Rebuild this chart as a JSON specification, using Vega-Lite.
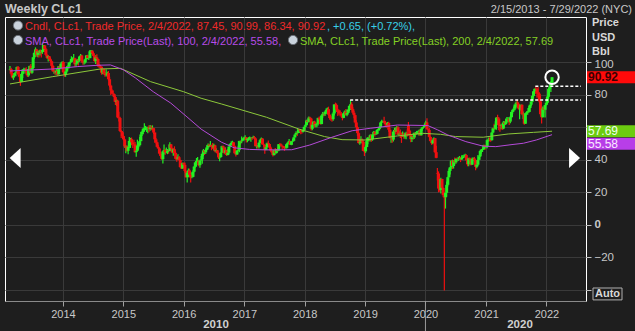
{
"$schema":"https://vega.github.io/schema/vega-lite/v6.json",
"width":581,"height":284,
"autosize":{"type":"none"},
"padding":{"left":5,"top":17,"right":49,"bottom":30},
"background":"#1e1e1e",
"config":{"view":{"fill":"#242424","stroke":"#ffffff","strokeWidth":1},"font":"Liberation Sans","text":{"font":"Liberation Sans"}},
"datasets":{
"ohlc":[
{"d":"2013-02-15","o":95.7,"h":97.8,"l":95.0,"c":95.9},
{"d":"2013-02-22","o":95.9,"h":96.7,"l":92.0,"c":93.1},
{"d":"2013-03-01","o":93.1,"h":93.8,"l":90.2,"c":90.7},
{"d":"2013-03-08","o":90.7,"h":92.4,"l":89.3,"c":92.0},
{"d":"2013-03-15","o":92.0,"h":93.9,"l":91.5,"c":93.5},
{"d":"2013-03-22","o":93.5,"h":94.4,"l":91.6,"c":93.7},
{"d":"2013-03-29","o":93.7,"h":97.6,"l":93.6,"c":97.2},
{"d":"2013-04-05","o":97.2,"h":97.8,"l":92.4,"c":92.7},
{"d":"2013-04-12","o":92.7,"h":95.2,"l":90.9,"c":91.3},
{"d":"2013-04-19","o":91.3,"h":91.5,"l":85.6,"c":88.0},
{"d":"2013-04-26","o":88.0,"h":93.8,"l":87.9,"c":93.0},
{"d":"2013-05-03","o":93.0,"h":95.9,"l":90.5,"c":95.6},
{"d":"2013-05-10","o":95.6,"h":96.8,"l":94.3,"c":96.0},
{"d":"2013-05-17","o":96.0,"h":96.4,"l":93.3,"c":96.0},
{"d":"2013-05-24","o":96.0,"h":97.1,"l":92.5,"c":94.2},
{"d":"2013-05-31","o":94.2,"h":95.0,"l":91.1,"c":92.0},
{"d":"2013-06-07","o":92.0,"h":96.2,"l":91.2,"c":96.0},
{"d":"2013-06-14","o":96.0,"h":98.0,"l":95.2,"c":97.9},
{"d":"2013-06-21","o":97.9,"h":99.0,"l":93.3,"c":93.7},
{"d":"2013-06-28","o":93.7,"h":97.3,"l":93.0,"c":96.6},
{"d":"2013-07-05","o":96.6,"h":103.4,"l":96.0,"c":103.2},
{"d":"2013-07-12","o":103.2,"h":106.6,"l":102.2,"c":105.9},
{"d":"2013-07-19","o":105.9,"h":109.3,"l":105.3,"c":108.1},
{"d":"2013-07-26","o":108.1,"h":108.4,"l":103.6,"c":104.7},
{"d":"2013-08-02","o":104.7,"h":107.5,"l":103.3,"c":106.9},
{"d":"2013-08-09","o":106.9,"h":107.1,"l":103.0,"c":106.0},
{"d":"2013-08-16","o":106.0,"h":108.0,"l":104.3,"c":107.5},
{"d":"2013-08-23","o":107.5,"h":107.8,"l":103.0,"c":106.4},
{"d":"2013-08-30","o":106.4,"h":112.2,"l":105.3,"c":107.7},
{"d":"2013-09-06","o":107.7,"h":110.7,"l":106.5,"c":110.5},
{"d":"2013-09-13","o":110.5,"h":110.8,"l":106.4,"c":108.2},
{"d":"2013-09-20","o":108.2,"h":108.9,"l":104.2,"c":104.7},
{"d":"2013-09-27","o":104.7,"h":105.0,"l":102.2,"c":102.9},
{"d":"2013-10-04","o":102.9,"h":104.5,"l":100.6,"c":103.8},
{"d":"2013-10-11","o":103.8,"h":104.0,"l":101.2,"c":102.0},
{"d":"2013-10-18","o":102.0,"h":102.9,"l":100.1,"c":100.8},
{"d":"2013-10-25","o":100.8,"h":101.0,"l":96.1,"c":97.9},
{"d":"2013-11-01","o":97.9,"h":98.5,"l":94.3,"c":94.6},
{"d":"2013-11-08","o":94.6,"h":95.5,"l":93.1,"c":94.6},
{"d":"2013-11-15","o":94.6,"h":95.2,"l":92.5,"c":93.8},
{"d":"2013-11-22","o":93.8,"h":96.0,"l":92.4,"c":94.8},
{"d":"2013-11-29","o":94.8,"h":95.3,"l":91.8,"c":92.7},
{"d":"2013-12-06","o":92.7,"h":97.9,"l":92.5,"c":97.7},
{"d":"2013-12-13","o":97.7,"h":98.9,"l":96.1,"c":96.6},
{"d":"2013-12-20","o":96.6,"h":99.5,"l":95.9,"c":99.3},
{"d":"2013-12-27","o":99.3,"h":100.8,"l":98.4,"c":100.3},
{"d":"2014-01-03","o":100.3,"h":100.8,"l":93.6,"c":94.0},
{"d":"2014-01-10","o":94.0,"h":94.4,"l":91.2,"c":92.7},
{"d":"2014-01-17","o":92.7,"h":94.6,"l":91.2,"c":94.4},
{"d":"2014-01-24","o":94.4,"h":97.8,"l":93.7,"c":96.6},
{"d":"2014-01-31","o":96.6,"h":98.3,"l":95.8,"c":97.5},
{"d":"2014-02-07","o":97.5,"h":100.2,"l":96.3,"c":99.9},
{"d":"2014-02-14","o":99.9,"h":101.0,"l":98.9,"c":100.3},
{"d":"2014-02-21","o":100.3,"h":103.8,"l":100.2,"c":102.2},
{"d":"2014-02-28","o":102.2,"h":103.2,"l":101.3,"c":102.6},
{"d":"2014-03-07","o":102.6,"h":105.2,"l":101.2,"c":102.6},
{"d":"2014-03-14","o":102.6,"h":102.9,"l":97.4,"c":98.9},
{"d":"2014-03-21","o":98.9,"h":101.2,"l":97.7,"c":99.5},
{"d":"2014-03-28","o":99.5,"h":102.2,"l":98.8,"c":101.7},
{"d":"2014-04-04","o":101.7,"h":102.4,"l":98.2,"c":101.1},
{"d":"2014-04-11","o":101.1,"h":104.0,"l":100.4,"c":103.7},
{"d":"2014-04-18","o":103.7,"h":105.2,"l":102.7,"c":104.3},
{"d":"2014-04-25","o":104.3,"h":104.7,"l":100.0,"c":100.6},
{"d":"2014-05-02","o":100.6,"h":101.2,"l":98.6,"c":99.8},
{"d":"2014-05-09","o":99.8,"h":101.3,"l":98.8,"c":100.0},
{"d":"2014-05-16","o":100.0,"h":102.4,"l":99.4,"c":102.0},
{"d":"2014-05-23","o":102.0,"h":104.6,"l":101.9,"c":104.4},
{"d":"2014-05-30","o":104.4,"h":104.7,"l":102.1,"c":102.7},
{"d":"2014-06-06","o":102.7,"h":103.7,"l":101.6,"c":102.7},
{"d":"2014-06-13","o":102.7,"h":107.7,"l":102.6,"c":106.9},
{"d":"2014-06-20","o":106.9,"h":107.7,"l":105.3,"c":107.3},
{"d":"2014-06-27","o":107.3,"h":107.5,"l":105.0,"c":105.7},
{"d":"2014-07-04","o":105.7,"h":106.5,"l":103.8,"c":104.1},
{"d":"2014-07-11","o":104.1,"h":104.2,"l":100.5,"c":100.8},
{"d":"2014-07-18","o":100.8,"h":104.4,"l":99.0,"c":103.1},
{"d":"2014-07-25","o":103.1,"h":105.0,"l":101.2,"c":102.1},
{"d":"2014-08-01","o":102.1,"h":102.3,"l":97.2,"c":97.9},
{"d":"2014-08-08","o":97.9,"h":99.2,"l":96.6,"c":97.7},
{"d":"2014-08-15","o":97.7,"h":98.6,"l":95.3,"c":97.4},
{"d":"2014-08-22","o":97.4,"h":97.6,"l":92.5,"c":93.7},
{"d":"2014-08-29","o":93.7,"h":96.2,"l":92.8,"c":96.0},
{"d":"2014-09-05","o":96.0,"h":96.3,"l":92.9,"c":93.3},
{"d":"2014-09-12","o":93.3,"h":94.1,"l":91.2,"c":92.3},
{"d":"2014-09-19","o":92.3,"h":95.9,"l":91.5,"c":92.4},
{"d":"2014-09-26","o":92.4,"h":94.3,"l":91.0,"c":93.5},
{"d":"2014-10-03","o":93.5,"h":94.8,"l":88.9,"c":89.7},
{"d":"2014-10-10","o":89.7,"h":91.2,"l":84.8,"c":85.8},
{"d":"2014-10-17","o":85.8,"h":86.3,"l":80.0,"c":82.8},
{"d":"2014-10-24","o":82.8,"h":83.6,"l":80.6,"c":81.0},
{"d":"2014-10-31","o":81.0,"h":82.8,"l":79.4,"c":80.5},
{"d":"2014-11-07","o":80.5,"h":80.8,"l":75.8,"c":78.7},
{"d":"2014-11-14","o":78.7,"h":79.2,"l":73.8,"c":75.8},
{"d":"2014-11-21","o":75.8,"h":77.3,"l":73.3,"c":76.5},
{"d":"2014-11-28","o":76.5,"h":77.0,"l":65.7,"c":66.2},
{"d":"2014-12-05","o":66.2,"h":69.7,"l":63.7,"c":65.8},
{"d":"2014-12-12","o":65.8,"h":66.6,"l":57.3,"c":57.8},
{"d":"2014-12-19","o":57.8,"h":58.5,"l":53.6,"c":57.1},
{"d":"2014-12-26","o":57.1,"h":57.9,"l":54.3,"c":54.7},
{"d":"2015-01-02","o":54.7,"h":55.1,"l":52.0,"c":52.7},
{"d":"2015-01-09","o":52.7,"h":53.1,"l":47.3,"c":48.4},
{"d":"2015-01-16","o":48.4,"h":49.0,"l":44.2,"c":48.7},
{"d":"2015-01-23","o":48.7,"h":48.8,"l":45.1,"c":45.6},
{"d":"2015-01-30","o":45.6,"h":48.7,"l":43.6,"c":48.2},
{"d":"2015-02-06","o":48.2,"h":54.2,"l":47.4,"c":51.7},
{"d":"2015-02-13","o":51.7,"h":53.6,"l":47.4,"c":52.8},
{"d":"2015-02-20","o":52.8,"h":53.9,"l":49.0,"c":50.8},
{"d":"2015-02-27","o":50.8,"h":51.3,"l":47.4,"c":49.8},
{"d":"2015-03-06","o":49.8,"h":52.5,"l":48.8,"c":49.6},
{"d":"2015-03-13","o":49.6,"h":51.1,"l":44.4,"c":44.8},
{"d":"2015-03-20","o":44.8,"h":46.3,"l":42.0,"c":45.7},
{"d":"2015-03-27","o":45.7,"h":52.5,"l":45.4,"c":48.9},
{"d":"2015-04-03","o":48.9,"h":50.8,"l":47.0,"c":49.1},
{"d":"2015-04-10","o":49.1,"h":54.2,"l":48.3,"c":51.6},
{"d":"2015-04-17","o":51.6,"h":57.4,"l":51.5,"c":55.7},
{"d":"2015-04-24","o":55.7,"h":58.0,"l":54.7,"c":57.2},
{"d":"2015-05-01","o":57.2,"h":59.9,"l":56.0,"c":59.2},
{"d":"2015-05-08","o":59.2,"h":62.6,"l":57.5,"c":59.4},
{"d":"2015-05-15","o":59.4,"h":61.0,"l":58.3,"c":59.7},
{"d":"2015-05-22","o":59.7,"h":60.5,"l":57.2,"c":59.7},
{"d":"2015-05-29","o":59.7,"h":60.5,"l":56.5,"c":60.3},
{"d":"2015-06-05","o":60.3,"h":61.4,"l":57.0,"c":59.1},
{"d":"2015-06-12","o":59.1,"h":61.5,"l":58.0,"c":60.0},
{"d":"2015-06-19","o":60.0,"h":61.2,"l":58.3,"c":59.6},
{"d":"2015-06-26","o":59.6,"h":61.3,"l":58.5,"c":59.6},
{"d":"2015-07-03","o":59.6,"h":59.9,"l":56.0,"c":56.9},
{"d":"2015-07-10","o":56.9,"h":57.0,"l":50.6,"c":52.7},
{"d":"2015-07-17","o":52.7,"h":53.6,"l":50.1,"c":50.9},
{"d":"2015-07-24","o":50.9,"h":51.2,"l":47.8,"c":48.1},
{"d":"2015-07-31","o":48.1,"h":49.4,"l":46.7,"c":47.1},
{"d":"2015-08-07","o":47.1,"h":47.3,"l":43.5,"c":43.9},
{"d":"2015-08-14","o":43.9,"h":45.2,"l":41.4,"c":42.5},
{"d":"2015-08-21","o":42.5,"h":43.3,"l":40.2,"c":40.5},
{"d":"2015-08-28","o":40.5,"h":45.5,"l":37.8,"c":45.2},
{"d":"2015-09-04","o":45.2,"h":49.6,"l":43.5,"c":46.1},
{"d":"2015-09-11","o":46.1,"h":46.9,"l":43.2,"c":44.6},
{"d":"2015-09-18","o":44.6,"h":47.7,"l":44.2,"c":44.7},
{"d":"2015-09-25","o":44.7,"h":46.7,"l":43.6,"c":45.7},
{"d":"2015-10-02","o":45.7,"h":46.3,"l":43.8,"c":45.5},
{"d":"2015-10-09","o":45.5,"h":50.9,"l":45.4,"c":49.6},
{"d":"2015-10-16","o":49.6,"h":49.9,"l":45.3,"c":47.3},
{"d":"2015-10-23","o":47.3,"h":47.6,"l":44.2,"c":44.6},
{"d":"2015-10-30","o":44.6,"h":47.0,"l":42.6,"c":46.6},
{"d":"2015-11-06","o":46.6,"h":48.4,"l":44.1,"c":44.3},
{"d":"2015-11-13","o":44.3,"h":45.0,"l":40.3,"c":40.7},
{"d":"2015-11-20","o":40.7,"h":42.7,"l":38.9,"c":40.4},
{"d":"2015-11-27","o":40.4,"h":43.5,"l":40.3,"c":41.7},
{"d":"2015-12-04","o":41.7,"h":42.5,"l":39.6,"c":40.0},
{"d":"2015-12-11","o":40.0,"h":40.2,"l":35.2,"c":35.6},
{"d":"2015-12-18","o":35.6,"h":37.4,"l":34.5,"c":34.7},
{"d":"2015-12-25","o":34.7,"h":38.4,"l":34.6,"c":38.1},
{"d":"2016-01-01","o":38.1,"h":38.4,"l":36.4,"c":37.0},
{"d":"2016-01-08","o":37.0,"h":38.4,"l":32.1,"c":33.2},
{"d":"2016-01-15","o":33.2,"h":33.4,"l":29.1,"c":29.4},
{"d":"2016-01-22","o":29.4,"h":32.4,"l":26.2,"c":32.2},
{"d":"2016-01-29","o":32.2,"h":34.8,"l":29.3,"c":33.6},
{"d":"2016-02-05","o":33.6,"h":34.7,"l":29.3,"c":30.9},
{"d":"2016-02-12","o":30.9,"h":31.0,"l":26.1,"c":29.4},
{"d":"2016-02-19","o":29.4,"h":32.3,"l":28.7,"c":29.6},
{"d":"2016-02-26","o":29.6,"h":33.6,"l":29.3,"c":32.8},
{"d":"2016-03-04","o":32.8,"h":36.3,"l":32.4,"c":35.9},
{"d":"2016-03-11","o":35.9,"h":38.9,"l":35.2,"c":38.5},
{"d":"2016-03-18","o":38.5,"h":41.2,"l":36.0,"c":39.4},
{"d":"2016-03-25","o":39.4,"h":41.9,"l":39.0,"c":39.5},
{"d":"2016-04-01","o":39.5,"h":39.8,"l":36.2,"c":36.8},
{"d":"2016-04-08","o":36.8,"h":39.8,"l":35.2,"c":39.7},
{"d":"2016-04-15","o":39.7,"h":42.4,"l":39.6,"c":40.4},
{"d":"2016-04-22","o":40.4,"h":44.5,"l":37.6,"c":43.7},
{"d":"2016-04-29","o":43.7,"h":46.8,"l":42.3,"c":45.9},
{"d":"2016-05-06","o":45.9,"h":46.2,"l":43.0,"c":44.7},
{"d":"2016-05-13","o":44.7,"h":47.0,"l":43.7,"c":46.2},
{"d":"2016-05-20","o":46.2,"h":49.0,"l":46.0,"c":47.8},
{"d":"2016-05-27","o":47.8,"h":50.2,"l":46.9,"c":49.3},
{"d":"2016-06-03","o":49.3,"h":50.0,"l":47.8,"c":48.6},
{"d":"2016-06-10","o":48.6,"h":51.7,"l":48.5,"c":49.1},
{"d":"2016-06-17","o":49.1,"h":49.4,"l":46.0,"c":48.0},
{"d":"2016-06-24","o":48.0,"h":50.5,"l":46.7,"c":47.6},
{"d":"2016-07-01","o":47.6,"h":50.0,"l":45.8,"c":49.0},
{"d":"2016-07-08","o":49.0,"h":49.4,"l":44.8,"c":45.4},
{"d":"2016-07-15","o":45.4,"h":47.2,"l":44.6,"c":46.0},
{"d":"2016-07-22","o":46.0,"h":46.1,"l":43.8,"c":44.2},
{"d":"2016-07-29","o":44.2,"h":44.4,"l":40.6,"c":41.6},
{"d":"2016-08-05","o":41.6,"h":42.0,"l":39.2,"c":41.8},
{"d":"2016-08-12","o":41.8,"h":44.8,"l":41.3,"c":44.5},
{"d":"2016-08-19","o":44.5,"h":48.8,"l":44.3,"c":48.5},
{"d":"2016-08-26","o":48.5,"h":48.9,"l":46.0,"c":47.6},
{"d":"2016-09-02","o":47.6,"h":47.7,"l":43.5,"c":44.4},
{"d":"2016-09-09","o":44.4,"h":47.7,"l":44.1,"c":45.9},
{"d":"2016-09-16","o":45.9,"h":46.3,"l":42.5,"c":43.0},
{"d":"2016-09-23","o":43.0,"h":46.6,"l":42.9,"c":44.5},
{"d":"2016-09-30","o":44.5,"h":48.3,"l":43.5,"c":48.2},
{"d":"2016-10-07","o":48.2,"h":50.0,"l":47.8,"c":49.8},
{"d":"2016-10-14","o":49.8,"h":51.6,"l":49.1,"c":50.4},
{"d":"2016-10-21","o":50.4,"h":51.9,"l":49.4,"c":50.9},
{"d":"2016-10-28","o":50.9,"h":51.2,"l":48.3,"c":48.7},
{"d":"2016-11-04","o":48.7,"h":48.8,"l":44.0,"c":44.1},
{"d":"2016-11-11","o":44.1,"h":45.9,"l":42.2,"c":43.4},
{"d":"2016-11-18","o":43.4,"h":46.2,"l":43.0,"c":45.7},
{"d":"2016-11-25","o":45.7,"h":48.7,"l":45.6,"c":46.1},
{"d":"2016-12-02","o":46.1,"h":51.8,"l":44.8,"c":51.7},
{"d":"2016-12-09","o":51.7,"h":51.9,"l":49.6,"c":51.5},
{"d":"2016-12-16","o":51.5,"h":54.5,"l":50.3,"c":51.9},
{"d":"2016-12-23","o":51.9,"h":53.4,"l":51.5,"c":53.0},
{"d":"2016-12-30","o":53.0,"h":54.3,"l":52.6,"c":53.7},
{"d":"2017-01-06","o":53.7,"h":55.2,"l":52.1,"c":54.0},
{"d":"2017-01-13","o":54.0,"h":54.1,"l":50.7,"c":52.4},
{"d":"2017-01-20","o":52.4,"h":53.6,"l":50.9,"c":53.2},
{"d":"2017-01-27","o":53.2,"h":54.0,"l":51.8,"c":53.2},
{"d":"2017-02-03","o":53.2,"h":54.5,"l":52.2,"c":53.8},
{"d":"2017-02-10","o":53.8,"h":54.0,"l":51.2,"c":53.9},
{"d":"2017-02-17","o":53.9,"h":54.0,"l":52.3,"c":53.4},
{"d":"2017-02-24","o":53.4,"h":54.9,"l":53.3,"c":54.0},
{"d":"2017-03-03","o":54.0,"h":54.7,"l":52.6,"c":53.3},
{"d":"2017-03-10","o":53.3,"h":53.8,"l":48.4,"c":48.5},
{"d":"2017-03-17","o":48.5,"h":49.2,"l":47.1,"c":48.8},
{"d":"2017-03-24","o":48.8,"h":49.0,"l":47.0,"c":48.0},
{"d":"2017-03-31","o":48.0,"h":50.9,"l":47.1,"c":50.6},
{"d":"2017-04-07","o":50.6,"h":52.9,"l":50.4,"c":52.2},
{"d":"2017-04-14","o":52.2,"h":53.8,"l":52.1,"c":53.2},
{"d":"2017-04-21","o":53.2,"h":53.3,"l":49.5,"c":49.6},
{"d":"2017-04-28","o":49.6,"h":50.2,"l":48.2,"c":49.3},
{"d":"2017-05-05","o":49.3,"h":49.5,"l":43.8,"c":46.2},
{"d":"2017-05-12","o":46.2,"h":48.0,"l":46.0,"c":47.8},
{"d":"2017-05-19","o":47.8,"h":50.7,"l":47.7,"c":50.3},
{"d":"2017-05-26","o":50.3,"h":52.0,"l":48.2,"c":49.8},
{"d":"2017-06-02","o":49.8,"h":50.2,"l":47.4,"c":47.7},
{"d":"2017-06-09","o":47.7,"h":48.5,"l":45.2,"c":45.8},
{"d":"2017-06-16","o":45.8,"h":46.5,"l":44.2,"c":44.7},
{"d":"2017-06-23","o":44.7,"h":44.9,"l":42.1,"c":43.0},
{"d":"2017-06-30","o":43.0,"h":46.2,"l":42.8,"c":46.0},
{"d":"2017-07-07","o":46.0,"h":47.3,"l":43.8,"c":44.2},
{"d":"2017-07-14","o":44.2,"h":46.6,"l":44.0,"c":46.5},
{"d":"2017-07-21","o":46.5,"h":47.7,"l":45.4,"c":45.8},
{"d":"2017-07-28","o":45.8,"h":49.8,"l":45.4,"c":49.7},
{"d":"2017-08-04","o":49.7,"h":50.4,"l":48.4,"c":49.6},
{"d":"2017-08-11","o":49.6,"h":50.2,"l":48.1,"c":48.8},
{"d":"2017-08-18","o":48.8,"h":48.9,"l":46.5,"c":48.5},
{"d":"2017-08-25","o":48.5,"h":48.6,"l":47.0,"c":47.9},
{"d":"2017-09-01","o":47.9,"h":48.3,"l":45.6,"c":47.3},
{"d":"2017-09-08","o":47.3,"h":49.4,"l":47.1,"c":47.5},
{"d":"2017-09-15","o":47.5,"h":50.3,"l":47.0,"c":49.9},
{"d":"2017-09-22","o":49.9,"h":51.0,"l":49.4,"c":50.7},
{"d":"2017-09-29","o":50.7,"h":52.9,"l":50.5,"c":51.7},
{"d":"2017-10-06","o":51.7,"h":51.8,"l":49.2,"c":49.3},
{"d":"2017-10-13","o":49.3,"h":51.6,"l":49.1,"c":51.5},
{"d":"2017-10-20","o":51.5,"h":52.9,"l":51.0,"c":51.8},
{"d":"2017-10-27","o":51.8,"h":54.0,"l":51.3,"c":53.9},
{"d":"2017-11-03","o":53.9,"h":55.8,"l":53.8,"c":55.6},
{"d":"2017-11-10","o":55.6,"h":57.7,"l":55.5,"c":56.7},
{"d":"2017-11-17","o":56.7,"h":57.1,"l":54.8,"c":56.6},
{"d":"2017-11-24","o":56.6,"h":59.1,"l":56.4,"c":59.0},
{"d":"2017-12-01","o":59.0,"h":59.1,"l":56.8,"c":58.4},
{"d":"2017-12-08","o":58.4,"h":58.6,"l":55.8,"c":57.4},
{"d":"2017-12-15","o":57.4,"h":58.0,"l":56.1,"c":57.3},
{"d":"2017-12-22","o":57.3,"h":58.6,"l":56.9,"c":58.5},
{"d":"2017-12-29","o":58.5,"h":60.5,"l":58.4,"c":60.4},
{"d":"2018-01-05","o":60.4,"h":62.2,"l":60.1,"c":61.4},
{"d":"2018-01-12","o":61.4,"h":64.8,"l":61.3,"c":64.3},
{"d":"2018-01-19","o":64.3,"h":64.9,"l":63.0,"c":63.4},
{"d":"2018-01-26","o":63.4,"h":66.7,"l":63.0,"c":66.1},
{"d":"2018-02-02","o":66.1,"h":66.6,"l":64.2,"c":65.5},
{"d":"2018-02-09","o":65.5,"h":65.8,"l":58.1,"c":59.2},
{"d":"2018-02-16","o":59.2,"h":61.9,"l":58.3,"c":61.7},
{"d":"2018-02-23","o":61.7,"h":63.7,"l":61.1,"c":63.6},
{"d":"2018-03-02","o":63.6,"h":64.2,"l":60.0,"c":61.3},
{"d":"2018-03-09","o":61.3,"h":63.0,"l":60.2,"c":62.0},
{"d":"2018-03-16","o":62.0,"h":62.8,"l":60.1,"c":62.3},
{"d":"2018-03-23","o":62.3,"h":66.0,"l":61.2,"c":65.9},
{"d":"2018-03-30","o":65.9,"h":66.7,"l":64.1,"c":64.9},
{"d":"2018-04-06","o":64.9,"h":65.0,"l":61.8,"c":62.1},
{"d":"2018-04-13","o":62.1,"h":67.5,"l":62.0,"c":67.4},
{"d":"2018-04-20","o":67.4,"h":69.6,"l":66.0,"c":68.4},
{"d":"2018-04-27","o":68.4,"h":69.1,"l":66.9,"c":68.1},
{"d":"2018-05-04","o":68.1,"h":70.0,"l":67.1,"c":69.7},
{"d":"2018-05-11","o":69.7,"h":71.9,"l":68.4,"c":70.7},
{"d":"2018-05-18","o":70.7,"h":72.3,"l":70.3,"c":71.3},
{"d":"2018-05-25","o":71.3,"h":72.8,"l":67.3,"c":67.9},
{"d":"2018-06-01","o":67.9,"h":68.1,"l":64.8,"c":65.8},
{"d":"2018-06-08","o":65.8,"h":66.5,"l":64.2,"c":65.7},
{"d":"2018-06-15","o":65.7,"h":67.1,"l":63.6,"c":65.1},
{"d":"2018-06-22","o":65.1,"h":69.3,"l":64.1,"c":68.6},
{"d":"2018-06-29","o":68.6,"h":74.5,"l":67.3,"c":74.2},
{"d":"2018-07-06","o":74.2,"h":75.3,"l":72.4,"c":73.8},
{"d":"2018-07-13","o":73.8,"h":74.7,"l":69.6,"c":71.0},
{"d":"2018-07-20","o":71.0,"h":71.5,"l":67.0,"c":70.5},
{"d":"2018-07-27","o":70.5,"h":70.9,"l":67.8,"c":68.7},
{"d":"2018-08-03","o":68.7,"h":70.5,"l":66.9,"c":68.5},
{"d":"2018-08-10","o":68.5,"h":69.6,"l":66.3,"c":67.6},
{"d":"2018-08-17","o":67.6,"h":68.0,"l":64.4,"c":65.9},
{"d":"2018-08-24","o":65.9,"h":69.0,"l":65.7,"c":68.7},
{"d":"2018-08-31","o":68.7,"h":70.5,"l":68.4,"c":69.8},
{"d":"2018-09-07","o":69.8,"h":71.4,"l":67.2,"c":67.8},
{"d":"2018-09-14","o":67.8,"h":71.0,"l":66.9,"c":69.0},
{"d":"2018-09-21","o":69.0,"h":71.4,"l":68.6,"c":70.8},
{"d":"2018-09-28","o":70.8,"h":73.6,"l":70.0,"c":73.3},
{"d":"2018-10-05","o":73.3,"h":76.9,"l":73.1,"c":74.3},
{"d":"2018-10-12","o":74.3,"h":75.6,"l":70.6,"c":71.3},
{"d":"2018-10-19","o":71.3,"h":72.4,"l":68.5,"c":69.1},
{"d":"2018-10-26","o":69.1,"h":70.3,"l":65.7,"c":67.6},
{"d":"2018-11-02","o":67.6,"h":67.9,"l":62.6,"c":63.1},
{"d":"2018-11-09","o":63.1,"h":64.4,"l":59.3,"c":60.2},
{"d":"2018-11-16","o":60.2,"h":60.8,"l":54.8,"c":56.5},
{"d":"2018-11-23","o":56.5,"h":57.3,"l":50.1,"c":50.4},
{"d":"2018-11-30","o":50.4,"h":52.2,"l":49.4,"c":50.9},
{"d":"2018-12-07","o":50.9,"h":54.6,"l":50.1,"c":52.6},
{"d":"2018-12-14","o":52.6,"h":53.2,"l":50.3,"c":51.2},
{"d":"2018-12-21","o":51.2,"h":51.9,"l":45.4,"c":45.6},
{"d":"2018-12-28","o":45.6,"h":47.2,"l":42.4,"c":45.3},
{"d":"2019-01-04","o":45.3,"h":49.0,"l":44.4,"c":48.0},
{"d":"2019-01-11","o":48.0,"h":53.3,"l":47.8,"c":51.6},
{"d":"2019-01-18","o":51.6,"h":54.1,"l":49.7,"c":53.8},
{"d":"2019-01-25","o":53.8,"h":54.5,"l":51.3,"c":53.7},
{"d":"2019-02-01","o":53.7,"h":55.8,"l":51.3,"c":55.3},
{"d":"2019-02-08","o":55.3,"h":55.8,"l":51.2,"c":52.7},
{"d":"2019-02-15","o":52.7,"h":55.8,"l":51.8,"c":55.6},
{"d":"2019-02-22","o":55.6,"h":57.8,"l":55.3,"c":57.3},
{"d":"2019-03-01","o":57.3,"h":57.8,"l":54.5,"c":55.8},
{"d":"2019-03-08","o":55.8,"h":57.4,"l":55.3,"c":56.1},
{"d":"2019-03-15","o":56.1,"h":58.9,"l":55.8,"c":58.5},
{"d":"2019-03-22","o":58.5,"h":60.4,"l":58.1,"c":59.0},
{"d":"2019-03-29","o":59.0,"h":60.7,"l":58.1,"c":60.1},
{"d":"2019-04-05","o":60.1,"h":63.2,"l":60.0,"c":63.1},
{"d":"2019-04-12","o":63.1,"h":64.8,"l":62.7,"c":63.9},
{"d":"2019-04-19","o":63.9,"h":64.2,"l":63.0,"c":64.0},
{"d":"2019-04-26","o":64.0,"h":66.6,"l":62.6,"c":63.3},
{"d":"2019-05-03","o":63.3,"h":64.2,"l":60.4,"c":61.9},
{"d":"2019-05-10","o":61.9,"h":62.6,"l":60.0,"c":61.7},
{"d":"2019-05-17","o":61.7,"h":63.4,"l":60.8,"c":62.8},
{"d":"2019-05-24","o":62.8,"h":63.5,"l":57.3,"c":58.6},
{"d":"2019-05-31","o":58.6,"h":59.9,"l":53.4,"c":53.5},
{"d":"2019-06-07","o":53.5,"h":55.0,"l":50.6,"c":54.0},
{"d":"2019-06-14","o":54.0,"h":54.5,"l":50.6,"c":52.5},
{"d":"2019-06-21","o":52.5,"h":57.9,"l":51.3,"c":57.4},
{"d":"2019-06-28","o":57.4,"h":59.9,"l":57.2,"c":58.5},
{"d":"2019-07-05","o":58.5,"h":60.0,"l":55.7,"c":57.5},
{"d":"2019-07-12","o":57.5,"h":60.9,"l":57.3,"c":60.2},
{"d":"2019-07-19","o":60.2,"h":60.8,"l":55.3,"c":55.6},
{"d":"2019-07-26","o":55.6,"h":57.7,"l":55.2,"c":56.2},
{"d":"2019-08-02","o":56.2,"h":58.8,"l":53.6,"c":55.7},
{"d":"2019-08-09","o":55.7,"h":56.9,"l":50.5,"c":54.5},
{"d":"2019-08-16","o":54.5,"h":57.5,"l":54.1,"c":54.9},
{"d":"2019-08-23","o":54.9,"h":56.9,"l":53.0,"c":54.2},
{"d":"2019-08-30","o":54.2,"h":56.8,"l":53.0,"c":55.1},
{"d":"2019-09-06","o":55.1,"h":57.4,"l":52.8,"c":56.5},
{"d":"2019-09-13","o":56.5,"h":58.8,"l":54.5,"c":54.9},
{"d":"2019-09-20","o":61.0,"h":63.4,"l":57.5,"c":58.1},
{"d":"2019-09-27","o":58.1,"h":58.6,"l":55.2,"c":55.9},
{"d":"2019-10-04","o":55.9,"h":56.0,"l":50.9,"c":52.8},
{"d":"2019-10-11","o":52.8,"h":54.9,"l":51.0,"c":54.7},
{"d":"2019-10-18","o":54.7,"h":54.9,"l":52.4,"c":53.8},
{"d":"2019-10-25","o":53.8,"h":56.9,"l":52.9,"c":56.7},
{"d":"2019-11-01","o":56.7,"h":56.9,"l":54.0,"c":56.2},
{"d":"2019-11-08","o":56.2,"h":57.9,"l":55.6,"c":57.2},
{"d":"2019-11-15","o":57.2,"h":58.0,"l":55.9,"c":57.7},
{"d":"2019-11-22","o":57.7,"h":58.6,"l":55.1,"c":57.8},
{"d":"2019-11-29","o":57.8,"h":58.8,"l":55.0,"c":55.2},
{"d":"2019-12-06","o":55.2,"h":59.3,"l":55.0,"c":59.2},
{"d":"2019-12-13","o":59.2,"h":60.2,"l":58.0,"c":60.1},
{"d":"2019-12-20","o":60.1,"h":61.4,"l":59.6,"c":60.4},
{"d":"2019-12-27","o":60.4,"h":62.3,"l":60.1,"c":61.7},
{"d":"2020-01-03","o":61.7,"h":64.1,"l":60.6,"c":63.1},
{"d":"2020-01-10","o":63.1,"h":65.7,"l":58.7,"c":59.0},
{"d":"2020-01-17","o":59.0,"h":59.2,"l":57.4,"c":58.5},
{"d":"2020-01-24","o":58.5,"h":59.7,"l":53.9,"c":54.2},
{"d":"2020-01-31","o":54.2,"h":54.6,"l":51.3,"c":51.6},
{"d":"2020-02-07","o":51.6,"h":52.1,"l":49.3,"c":50.3},
{"d":"2020-02-14","o":50.3,"h":52.4,"l":49.7,"c":52.1},
{"d":"2020-02-21","o":52.1,"h":54.0,"l":51.6,"c":53.4},
{"d":"2020-02-28","o":53.4,"h":53.5,"l":44.3,"c":44.8},
{"d":"2020-03-06","o":44.8,"h":48.7,"l":41.0,"c":41.3},
{"d":"2020-03-13","o":32.0,"h":35.0,"l":27.3,"c":31.7},
{"d":"2020-03-20","o":31.7,"h":33.0,"l":20.1,"c":22.4},
{"d":"2020-03-27","o":22.4,"h":25.2,"l":20.5,"c":21.5},
{"d":"2020-04-03","o":21.5,"h":29.1,"l":19.3,"c":28.3},
{"d":"2020-04-10","o":28.3,"h":28.4,"l":22.6,"c":22.8},
{"d":"2020-04-17","o":22.8,"h":23.0,"l":17.3,"c":18.3},
{"d":"2020-04-24","o":17.7,"h":18.3,"l":-40.3,"c":16.9},
{"d":"2020-05-01","o":17.0,"h":19.9,"l":10.1,"c":19.8},
{"d":"2020-05-08","o":19.8,"h":26.7,"l":17.3,"c":24.7},
{"d":"2020-05-15","o":24.7,"h":29.6,"l":23.6,"c":29.4},
{"d":"2020-05-22","o":29.4,"h":34.7,"l":29.2,"c":33.3},
{"d":"2020-05-29","o":33.3,"h":35.7,"l":31.1,"c":35.5},
{"d":"2020-06-05","o":35.5,"h":39.7,"l":34.6,"c":39.6},
{"d":"2020-06-12","o":39.6,"h":40.4,"l":34.4,"c":36.3},
{"d":"2020-06-19","o":36.3,"h":40.0,"l":34.7,"c":39.8},
{"d":"2020-06-26","o":39.8,"h":41.6,"l":37.1,"c":38.5},
{"d":"2020-07-03","o":38.5,"h":41.0,"l":37.6,"c":40.7},
{"d":"2020-07-10","o":40.7,"h":41.6,"l":39.0,"c":40.6},
{"d":"2020-07-17","o":40.6,"h":41.9,"l":39.4,"c":40.6},
{"d":"2020-07-24","o":40.6,"h":42.5,"l":40.1,"c":41.3},
{"d":"2020-07-31","o":41.3,"h":42.0,"l":38.7,"c":40.3},
{"d":"2020-08-07","o":40.3,"h":42.9,"l":40.0,"c":41.2},
{"d":"2020-08-14","o":41.2,"h":43.0,"l":41.0,"c":42.0},
{"d":"2020-08-21","o":42.0,"h":43.4,"l":41.5,"c":42.3},
{"d":"2020-08-28","o":42.3,"h":43.8,"l":42.0,"c":43.0},
{"d":"2020-09-04","o":43.0,"h":43.5,"l":39.3,"c":39.8},
{"d":"2020-09-11","o":39.8,"h":40.0,"l":36.1,"c":37.3},
{"d":"2020-09-18","o":37.3,"h":41.4,"l":36.1,"c":41.1},
{"d":"2020-09-25","o":41.1,"h":41.5,"l":38.9,"c":40.3},
{"d":"2020-10-02","o":40.3,"h":40.9,"l":36.6,"c":37.1},
{"d":"2020-10-09","o":37.1,"h":41.6,"l":36.9,"c":40.6},
{"d":"2020-10-16","o":40.6,"h":41.5,"l":39.6,"c":40.9},
{"d":"2020-10-23","o":40.9,"h":41.9,"l":38.6,"c":39.9},
{"d":"2020-10-30","o":39.9,"h":40.0,"l":33.6,"c":35.8},
{"d":"2020-11-06","o":35.8,"h":39.2,"l":34.9,"c":37.1},
{"d":"2020-11-13","o":37.1,"h":43.1,"l":36.5,"c":40.1},
{"d":"2020-11-20","o":40.1,"h":42.7,"l":40.0,"c":42.2},
{"d":"2020-11-27","o":42.2,"h":46.3,"l":41.9,"c":45.5},
{"d":"2020-12-04","o":45.5,"h":46.7,"l":43.9,"c":46.3},
{"d":"2020-12-11","o":46.3,"h":47.7,"l":44.9,"c":46.6},
{"d":"2020-12-18","o":46.6,"h":49.3,"l":46.1,"c":49.1},
{"d":"2020-12-25","o":49.1,"h":49.3,"l":46.2,"c":48.2},
{"d":"2021-01-01","o":48.2,"h":49.0,"l":47.2,"c":48.5},
{"d":"2021-01-08","o":48.5,"h":52.8,"l":47.2,"c":52.2},
{"d":"2021-01-15","o":52.2,"h":53.9,"l":51.3,"c":52.4},
{"d":"2021-01-22","o":52.4,"h":53.9,"l":51.4,"c":52.3},
{"d":"2021-01-29","o":52.3,"h":53.7,"l":51.2,"c":52.2},
{"d":"2021-02-05","o":52.2,"h":57.0,"l":51.9,"c":56.9},
{"d":"2021-02-12","o":56.9,"h":59.8,"l":56.6,"c":59.5},
{"d":"2021-02-19","o":59.5,"h":62.3,"l":58.6,"c":59.2},
{"d":"2021-02-26","o":59.2,"h":63.8,"l":58.8,"c":61.5},
{"d":"2021-03-05","o":61.5,"h":66.4,"l":58.6,"c":66.1},
{"d":"2021-03-12","o":66.1,"h":67.9,"l":63.1,"c":65.6},
{"d":"2021-03-19","o":65.6,"h":66.4,"l":58.3,"c":61.4},
{"d":"2021-03-26","o":61.4,"h":61.8,"l":57.3,"c":61.0},
{"d":"2021-04-02","o":61.0,"h":62.3,"l":58.9,"c":61.5},
{"d":"2021-04-09","o":61.5,"h":61.9,"l":58.4,"c":59.3},
{"d":"2021-04-16","o":59.3,"h":64.0,"l":58.9,"c":63.1},
{"d":"2021-04-23","o":63.1,"h":63.9,"l":60.6,"c":62.1},
{"d":"2021-04-30","o":62.1,"h":65.5,"l":61.6,"c":63.6},
{"d":"2021-05-07","o":63.6,"h":66.5,"l":63.0,"c":64.9},
{"d":"2021-05-14","o":64.9,"h":66.4,"l":63.1,"c":65.4},
{"d":"2021-05-21","o":65.4,"h":66.0,"l":61.6,"c":63.6},
{"d":"2021-05-28","o":63.6,"h":67.0,"l":62.6,"c":66.3},
{"d":"2021-06-04","o":66.3,"h":69.8,"l":66.0,"c":69.6},
{"d":"2021-06-11","o":69.6,"h":71.0,"l":68.4,"c":70.9},
{"d":"2021-06-18","o":70.9,"h":72.9,"l":69.9,"c":71.6},
{"d":"2021-06-25","o":71.6,"h":74.2,"l":70.6,"c":74.1},
{"d":"2021-07-02","o":74.1,"h":76.0,"l":72.6,"c":75.2},
{"d":"2021-07-09","o":75.2,"h":76.9,"l":71.9,"c":74.6},
{"d":"2021-07-16","o":74.6,"h":75.5,"l":71.0,"c":71.8},
{"d":"2021-07-23","o":71.8,"h":72.3,"l":65.0,"c":72.1},
{"d":"2021-07-30","o":72.1,"h":74.0,"l":70.5,"c":74.0},
{"d":"2021-08-06","o":74.0,"h":74.1,"l":67.6,"c":68.3},
{"d":"2021-08-13","o":68.3,"h":69.8,"l":65.2,"c":68.4},
{"d":"2021-08-20","o":68.4,"h":68.5,"l":61.7,"c":62.3},
{"d":"2021-08-27","o":62.3,"h":69.0,"l":62.2,"c":68.7},
{"d":"2021-09-03","o":68.7,"h":70.0,"l":67.6,"c":69.3},
{"d":"2021-09-10","o":69.3,"h":70.2,"l":67.8,"c":69.7},
{"d":"2021-09-17","o":69.7,"h":73.2,"l":69.1,"c":72.0},
{"d":"2021-09-24","o":72.0,"h":74.0,"l":69.6,"c":74.0},
{"d":"2021-10-01","o":74.0,"h":76.7,"l":73.1,"c":75.9},
{"d":"2021-10-08","o":75.9,"h":79.8,"l":75.8,"c":79.4},
{"d":"2021-10-15","o":79.4,"h":82.4,"l":78.3,"c":82.3},
{"d":"2021-10-22","o":82.3,"h":84.0,"l":81.2,"c":83.8},
{"d":"2021-10-29","o":83.8,"h":85.4,"l":80.6,"c":83.6},
{"d":"2021-11-05","o":83.6,"h":84.3,"l":78.3,"c":81.3},
{"d":"2021-11-12","o":81.3,"h":84.9,"l":78.6,"c":80.8},
{"d":"2021-11-19","o":80.8,"h":81.7,"l":75.3,"c":76.1},
{"d":"2021-11-26","o":76.1,"h":79.2,"l":67.4,"c":68.2},
{"d":"2021-12-03","o":68.2,"h":72.6,"l":62.4,"c":66.3},
{"d":"2021-12-10","o":66.3,"h":72.9,"l":66.2,"c":71.7},
{"d":"2021-12-17","o":71.7,"h":72.9,"l":69.1,"c":70.9},
{"d":"2021-12-24","o":70.9,"h":73.9,"l":66.1,"c":73.8},
{"d":"2021-12-31","o":73.8,"h":77.1,"l":73.6,"c":75.2},
{"d":"2022-01-07","o":75.2,"h":80.2,"l":74.3,"c":78.9},
{"d":"2022-01-14","o":78.9,"h":84.3,"l":77.8,"c":83.8},
{"d":"2022-01-21","o":83.8,"h":87.0,"l":82.8,"c":85.1},
{"d":"2022-01-28","o":85.1,"h":88.5,"l":81.9,"c":86.8},
{"d":"2022-02-04","o":87.45,"h":90.99,"l":86.34,"c":90.92}
],
"sma100":[
{"d":"2013-02-15","v":94.8},{"d":"2013-06-01","v":95.3},{"d":"2013-11-01","v":96.0},{"d":"2014-04-01","v":97.5},{"d":"2014-08-01","v":98.3},{"d":"2014-10-15","v":98.5},{"d":"2015-01-01","v":95.5},{"d":"2015-03-15","v":90.5},{"d":"2015-07-01","v":82.0},{"d":"2015-10-15","v":75.0},{"d":"2016-01-15","v":67.0},{"d":"2016-04-15","v":59.0},{"d":"2016-08-15","v":51.0},{"d":"2016-11-01","v":47.5},{"d":"2017-02-01","v":46.5},{"d":"2017-05-15","v":46.2},{"d":"2017-10-15","v":46.3},{"d":"2018-02-01","v":49.2},{"d":"2018-06-15","v":54.0},{"d":"2018-10-15","v":58.0},{"d":"2019-02-01","v":59.5},{"d":"2019-07-15","v":61.5},{"d":"2020-01-15","v":61.2},{"d":"2020-03-15","v":58.5},{"d":"2020-05-15","v":55.4},{"d":"2020-09-01","v":51.3},{"d":"2020-12-15","v":48.5},{"d":"2021-03-01","v":48.2},{"d":"2021-06-01","v":49.4},{"d":"2021-08-15","v":50.3},{"d":"2021-11-01","v":52.3},{"d":"2022-02-04","v":55.58}
],
"sma200":[
{"d":"2013-02-15","v":86.8},{"d":"2013-11-01","v":91.3},{"d":"2014-08-15","v":96.0},{"d":"2014-12-15","v":96.4},{"d":"2015-06-15","v":88.2},{"d":"2016-01-01","v":82.0},{"d":"2016-04-15","v":78.0},{"d":"2016-08-15","v":74.5},{"d":"2017-05-15","v":66.3},{"d":"2017-12-01","v":58.9},{"d":"2018-05-01","v":54.4},{"d":"2018-08-15","v":52.5},{"d":"2019-01-01","v":52.3},{"d":"2019-07-15","v":54.8},{"d":"2019-12-15","v":56.4},{"d":"2020-04-01","v":55.8},{"d":"2020-07-01","v":54.4},{"d":"2020-12-15","v":54.0},{"d":"2021-05-15","v":56.0},{"d":"2021-10-15","v":57.0},{"d":"2022-02-04","v":57.69}
],
"levels":[{"d":"2018-10-03","v":76.9},{"d":"2021-10-26","v":85.4}]
},
"layer":[
{"data":{"name":"ohlc"},
 "mark":{"type":"rule","strokeWidth":1.2},
 "encoding":{
  "x":{"field":"d","type":"temporal","scale":{"type":"utc","domain":[{"year":2013,"month":2,"date":15,"utc":true},{"year":2022,"month":7,"date":29,"utc":true}]},
   "axis":{"title":null,"values":[{"year":2014,"utc":true},{"year":2015,"utc":true},{"year":2016,"utc":true},{"year":2017,"utc":true},{"year":2018,"utc":true},{"year":2019,"utc":true},{"year":2020,"utc":true},{"year":2021,"utc":true},{"year":2022,"utc":true}],"format":"%Y","formatType":"utc","grid":true,"gridColor":"#3a3a3a","tickSize":5,"tickColor":"#a0a0a0","labelColor":"#c8c8c8","labelFontSize":11,"labelFont":"Liberation Sans","labelPadding":2,"domainColor":"#8a8a8a","labelFlush":false}},
  "y":{"field":"l","type":"quantitative","scale":{"domain":[-46.8,128],"nice":false,"zero":false},
   "axis":{"title":null,"orient":"right","values":[-40,-20,0,20,40,60,80,100],"grid":true,"gridColor":"#3a3a3a","domain":false,"tickSize":5,"tickColor":"#c0c0c0","labelColor":"#c8c8c8","labelFontSize":11.5,"labelFont":"Liberation Sans","labelPadding":3,"labelExpr":"datum.value === -40 || datum.value === 60 ? '' : datum.label","labelOffset":{"condition":{"test":"datum.value === 100","value":2},"value":0},"labelFontWeight":{"condition":{"test":"datum.value === 0","value":"bold"},"value":"normal"}}},
  "y2":{"field":"h"},
  "color":{"condition":{"test":"datum.c >= datum.o","value":"#22f022"},"value":"#f01010"}
 }},
{"data":{"name":"ohlc"},
 "mark":{"type":"bar","size":3},
 "encoding":{
  "x":{"field":"d","type":"temporal"},
  "y":{"field":"o","type":"quantitative"},
  "y2":{"field":"c"},
  "color":{"condition":{"test":"datum.c >= datum.o","value":"#22f022"},"value":"#f01010"}
 }},
{"data":{"name":"sma200"},
 "mark":{"type":"line","color":"#8cc83a","strokeWidth":1},
 "encoding":{"x":{"field":"d","type":"temporal"},"y":{"field":"v","type":"quantitative"}}},
{"data":{"name":"sma100"},
 "mark":{"type":"line","color":"#b44ad8","strokeWidth":1},
 "encoding":{"x":{"field":"d","type":"temporal"},"y":{"field":"v","type":"quantitative"}}},
{"data":{"name":"levels"},
 "mark":{"type":"rule","color":"#ffffff","strokeWidth":1.5,"strokeDash":[3,2]},
 "encoding":{"x":{"field":"d","type":"temporal"},"x2":{"datum":{"year":2022,"month":7,"date":29,"utc":true}},"y":{"field":"v","type":"quantitative"}}},
{"data":{"values":[{}]},
 "mark":{"type":"point","shape":"circle","size":180,"filled":false,"stroke":"#ffffff","strokeWidth":2,"opacity":1},
 "encoding":{"x":{"datum":{"year":2022,"month":2,"date":4,"utc":true},"type":"temporal"},"y":{"datum":90.92,"type":"quantitative"}}},
{"data":{"values":[{}]},
 "mark":{"type":"point","shape":"M0.55,-1L-0.55,0L0.55,1Z","size":400,"filled":true,"color":"#ffffff","opacity":1},
 "encoding":{"x":{"datum":{"year":2013,"month":3,"date":18,"utc":true},"type":"temporal"},"y":{"datum":41.2,"type":"quantitative"}}},
{"data":{"values":[{}]},
 "mark":{"type":"point","shape":"M-0.55,-1L0.55,0L-0.55,1Z","size":400,"filled":true,"color":"#ffffff","opacity":1},
 "encoding":{"x":{"datum":{"year":2022,"month":6,"date":20,"utc":true},"type":"temporal"},"y":{"datum":41.2,"type":"quantitative"}}},
{"data":{"values":[{}]},
 "mark":{"type":"point","shape":"M-1,-0.25H1V0.25H-1Z","size":2304,"filled":true,"color":"#ff0a0a","opacity":1,"x":606},
 "encoding":{"y":{"datum":90.92,"type":"quantitative"}}},
{"data":{"values":[{}]},
 "mark":{"type":"text","text":"90.92","x":583,"align":"left","baseline":"middle","fontSize":12,"fontWeight":"bold","color":"#3a0000"},
 "encoding":{"y":{"datum":90.92,"type":"quantitative"}}},
{"data":{"values":[{}]},
 "mark":{"type":"point","shape":"M-1,-0.25H1V0.25H-1Z","size":2304,"filled":true,"color":"#6ccc10","opacity":1,"x":606},
 "encoding":{"y":{"datum":57.69,"type":"quantitative"}}},
{"data":{"values":[{}]},
 "mark":{"type":"text","text":"57.69","x":583,"align":"left","baseline":"middle","fontSize":12,"color":"#f0fff0"},
 "encoding":{"y":{"datum":57.69,"type":"quantitative"}}},
{"data":{"values":[{}]},
 "mark":{"type":"point","shape":"M-1,-0.25H1V0.25H-1Z","size":2304,"filled":true,"color":"#b83ee8","opacity":1,"x":606,"yOffset":9},
 "encoding":{"y":{"datum":55.58,"type":"quantitative"}}},
{"data":{"values":[{}]},
 "mark":{"type":"text","text":"55.58","x":583,"yOffset":9,"align":"left","baseline":"middle","fontSize":12,"color":"#f8eaff"},
 "encoding":{"y":{"datum":55.58,"type":"quantitative"}}},
{"data":{"values":[{}]},
 "mark":{"type":"point","shape":"M-1,-0.41H1V0.41H-1Z","size":841,"filled":false,"stroke":"#b0b0b0","strokeWidth":1,"opacity":1,"x":602.5,"yOffset":4},
 "encoding":{"y":{"datum":-40,"type":"quantitative"}}},
{"data":{"values":[{}]},
 "mark":{"type":"text","text":"Auto","x":602.5,"yOffset":4,"align":"center","baseline":"middle","fontSize":11,"fontWeight":"bold","color":"#d8d8d8"},
 "encoding":{"y":{"datum":-40,"type":"quantitative"}}},
{"data":{"values":[{}]},
 "mark":{"type":"rule","color":"#9a9a9a","strokeWidth":1,"y":284,"y2":314},
 "encoding":{"x":{"datum":{"year":2020,"month":1,"date":1,"utc":true},"type":"temporal"}}},
{"data":{"values":[{}]},
 "mark":{"type":"text","text":"2010","x":211,"y":308,"align":"center","baseline":"middle","fontSize":11.5,"fontWeight":"bold","color":"#d0d0d0"},
 "encoding":{}},
{"data":{"values":[{}]},
 "mark":{"type":"text","text":"2020","x":515,"y":308,"align":"center","baseline":"middle","fontSize":11.5,"fontWeight":"bold","color":"#d0d0d0"},
 "encoding":{}},
{"data":{"values":[{}]},
 "mark":{"type":"text","text":"Weekly CLc1","x":0,"y":-4,"align":"left","baseline":"alphabetic","fontSize":12.5,"fontWeight":"bold","color":"#c8c8c8"},
 "encoding":{}},
{"data":{"values":[{}]},
 "mark":{"type":"text","text":"2/15/2013 - 7/29/2022 (NYC)","x":627,"y":-4,"align":"right","baseline":"alphabetic","fontSize":11,"color":"#c8c8c8"},
 "encoding":{}},
{"data":{"values":[{}]},
 "mark":{"type":"text","text":"Price","x":587,"y":9,"align":"left","baseline":"alphabetic","fontSize":11,"fontWeight":"bold","color":"#d8d8d8"},
 "encoding":{}},
{"data":{"values":[{}]},
 "mark":{"type":"text","text":"USD","x":587,"y":23.5,"align":"left","baseline":"alphabetic","fontSize":11,"fontWeight":"bold","color":"#d8d8d8"},
 "encoding":{}},
{"data":{"values":[{}]},
 "mark":{"type":"text","text":"Bbl","x":587,"y":38,"align":"left","baseline":"alphabetic","fontSize":11,"fontWeight":"bold","color":"#d8d8d8"},
 "encoding":{}},
{"data":{"values":[{}]},
 "mark":{"type":"point","shape":"circle","size":85,"filled":true,"color":"#c9d2dc","stroke":"#6a7078","strokeWidth":1,"opacity":1,"x":13,"y":8.5},
 "encoding":{}},
{"data":{"values":[{}]},
 "mark":{"type":"point","shape":"circle","size":85,"filled":true,"color":"#c9d2dc","stroke":"#6a7078","strokeWidth":1,"opacity":1,"x":13,"y":23},
 "encoding":{}},
{"data":{"values":[{}]},
 "mark":{"type":"point","shape":"circle","size":85,"filled":true,"color":"#c9d2dc","stroke":"#6a7078","strokeWidth":1,"opacity":1,"x":288,"y":23},
 "encoding":{}},
{"data":{"values":[{}]},
 "mark":{"type":"text","text":"Cndl, CLc1, Trade Price, 2/4/2022, 87.45, 90.99, 86.34, 90.92","x":20,"y":13,"align":"left","baseline":"alphabetic","fontSize":11,"color":"#f02a2a"},
 "encoding":{}},
{"data":{"values":[{}]},
 "mark":{"type":"text","text":", +0.65, (+0.72%),","x":322,"y":13,"align":"left","baseline":"alphabetic","fontSize":11,"color":"#38d0e8"},
 "encoding":{}},
{"data":{"values":[{}]},
 "mark":{"type":"text","text":"SMA, CLc1, Trade Price(Last),  100, 2/4/2022, 55.58,","x":20,"y":27.5,"align":"left","baseline":"alphabetic","fontSize":11,"color":"#b84ce8"},
 "encoding":{}},
{"data":{"values":[{}]},
 "mark":{"type":"text","text":"SMA, CLc1, Trade Price(Last),  200, 2/4/2022, 57.69","x":295,"y":27.5,"align":"left","baseline":"alphabetic","fontSize":11,"color":"#84d024"},
 "encoding":{}}
]
}
